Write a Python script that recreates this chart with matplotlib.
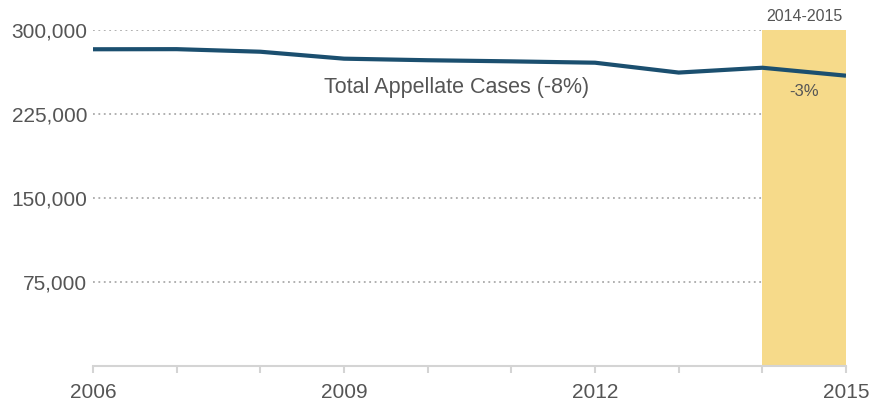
import matplotlib.pyplot as plt
import numpy as np

plt.rcParams['font.family'] = ['Liberation Sans', 'DejaVu Sans']

years = [2006, 2007, 2008, 2009, 2010, 2011, 2012, 2013, 2014, 2015]
cases = [282800, 282900, 280600, 274400, 273000, 272000, 270800, 262000, 266300, 259200]
yticks = [75000, 150000, 225000, 300000]
xlabels = [2006, 2009, 2012, 2015]
span = (2014, 2015)

text_col = '#555555'
line_col = '#1b4f6f'

fig = plt.figure(figsize=(8.7, 4.01), dpi=100)
ax = fig.add_axes([93/870, 1 - 366/401, (846 - 93)/870, 336/401])

# highlighted period
ax.fill_between(span, 0, 300000, color='#f6da8a', lw=0, zorder=1)
ax.text(np.mean(span), 312200, '%d-%d' % span, ha='center', va='center',
        fontsize=11.5, color=text_col, clip_on=False)
ax.text(np.mean(span), 245500, '-3%', ha='center', va='center',
        fontsize=12, color=text_col)

for t in yticks:
    ax.axhline(t, color='#aaaaaa', lw=1.3, ls=(0, (1, 2)), zorder=0)

ax.plot(years, cases, color=line_col, lw=3, solid_capstyle='butt', zorder=3)
ax.text(2010.35, 248500, 'Total Appellate Cases (-8%)', ha='center', va='center',
        fontsize=15.5, color=text_col)

ax.set_xlim(2006, 2015)
ax.set_ylim(0, 300000)
ax.set_yticks(yticks)
ax.set_yticklabels([f'{t:,}' for t in yticks])
ax.set_xticks(years)
ax.set_xticklabels([str(y) if y in xlabels else '' for y in years])

for s in ['top', 'right', 'left']:
    ax.spines[s].set_visible(False)
ax.spines['bottom'].set_color('#d4d4d4')
ax.spines['bottom'].set_linewidth(1.5)
ax.tick_params(axis='y', length=0, pad=4, labelsize=15, labelcolor=text_col)
ax.tick_params(axis='x', length=5, width=1.5, color='#d4d4d4', pad=7,
               labelsize=15, labelcolor=text_col)

fig.savefig('out.png', dpi=100)
